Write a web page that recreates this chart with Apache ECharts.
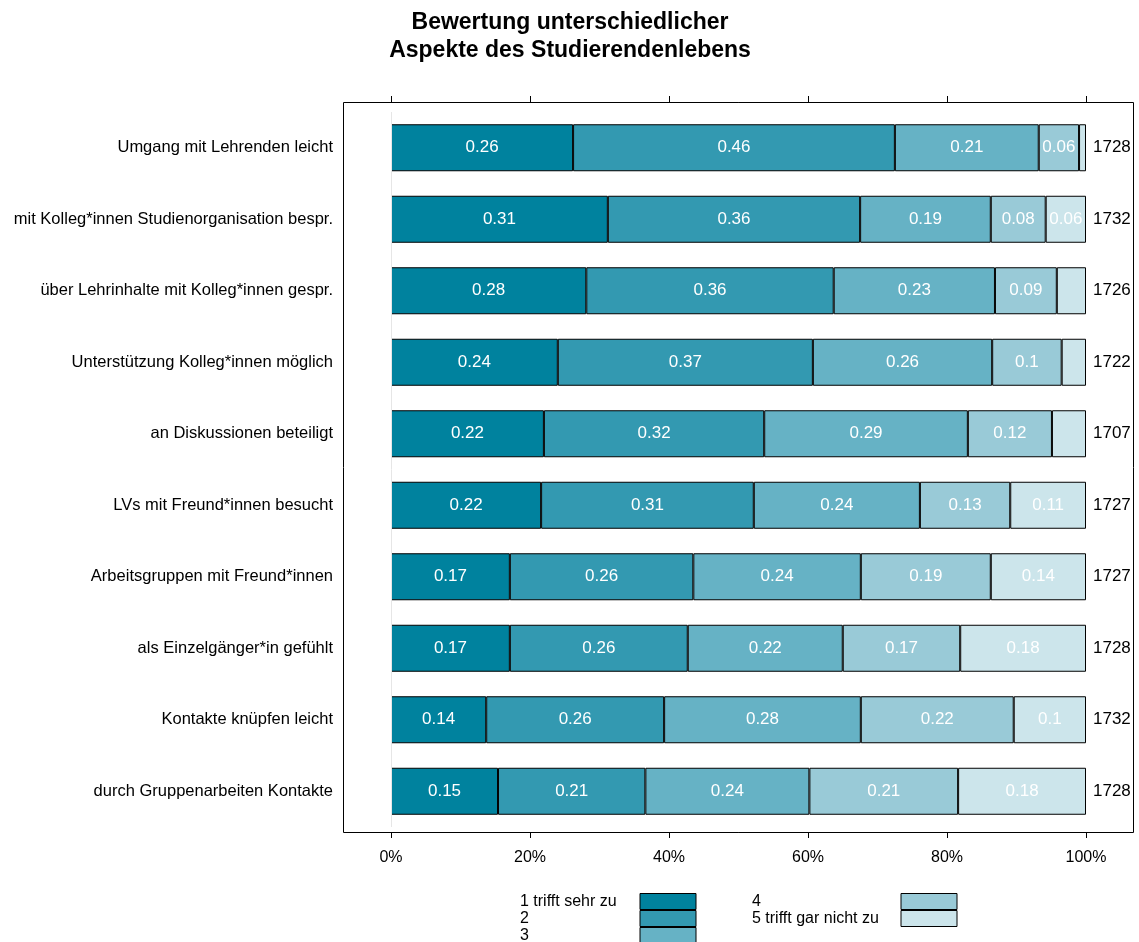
<!DOCTYPE html>
<html>
<head>
<meta charset="utf-8">
<script src="https://cdn.jsdelivr.net/npm/echarts@6/dist/echarts.min.js"></script>
<style>html,body{margin:0;padding:0;background:#fff}#c{width:1139px;height:942px}</style>
</head>
<body>
<div id="c"></div>
<script>
const categories = [
  "Umgang mit Lehrenden leicht",
  "mit Kolleg*innen Studienorganisation bespr.",
  "über Lehrinhalte mit Kolleg*innen gespr.",
  "Unterstützung Kolleg*innen möglich",
  "an Diskussionen beteiligt",
  "LVs mit Freund*innen besucht",
  "Arbeitsgruppen mit Freund*innen",
  "als Einzelgänger*in gefühlt",
  "Kontakte knüpfen leicht",
  "durch Gruppenarbeiten Kontakte"
];
const counts = ["1728","1732","1726","1722","1707","1727","1727","1728","1732","1728"];
const seriesNames = ["1 trifft sehr zu","2","3","4","5 trifft gar nicht zu"];
const colors = ["#00829E","#3399B1","#66B2C5","#99CAD7","#CCE5EB"];
const s1 = [0.262,0.312,0.281,0.240,0.220,0.216,0.171,0.171,0.137,0.154];
const s2 = [0.463,0.363,0.356,0.367,0.317,0.306,0.264,0.256,0.256,0.212];
const s3 = [0.207,0.188,0.232,0.258,0.293,0.239,0.241,0.223,0.283,0.236];
const s4 = [0.058,0.079,0.089,0.100,0.121,0.130,0.187,0.169,0.220,0.214];
const s5 = [0.010,0.058,0.042,0.035,0.049,0.109,0.137,0.181,0.104,0.184];
const tickLabels = ["0%","20%","40%","60%","80%","100%"];
const allSeries = [s1,s2,s3,s4,s5];

const FONT = "Liberation Sans, Arial, sans-serif";
const chart = echarts.init(document.getElementById('c'), null, {renderer:'canvas'});

const series = allSeries.map((d, i) => ({
  name: seriesNames[i],
  type: 'bar',
  stack: 'all',
  barWidth: 47,
  data: d,
  itemStyle: { color: colors[i], borderColor: '#000', borderWidth: 1 },
  label: {
    show: true,
    position: 'inside',
    color: '#fff',
    fontFamily: FONT,
    fontSize: 17,
    formatter: p => p.value >= 0.055 ? String(Math.round(p.value * 100) / 100) : ''
  },
  emphasis: { disabled: true },
  markLine: i === 0 ? {
    silent: true, symbol: 'none', label: { show: false },
    lineStyle: { color: '#e6e6e6', type: 'solid', width: 1 },
    data: [{ xAxis: 0 }]
  } : undefined,
  z: 3
}));

function legendCfg(names, left, w) {
  return {
    data: names, left: left, top: 893, height: 120, orient: 'vertical',
    align: 'right', itemGap: 0, itemWidth: 56, itemHeight: 16, padding: 0,
    selectedMode: false, icon: 'rect',
    itemStyle: { borderWidth: 1, borderColor: '#000' },
    formatter: n => '{a|' + n + '}',
    textStyle: { fontFamily: FONT, fontSize: 16, color: '#000', lineHeight: 14,
      rich: { a: { width: w, align: 'left', fontFamily: FONT, fontSize: 16, color: '#000', lineHeight: 14 } } }
  };
}

chart.setOption({
  animation: false,
  backgroundColor: '#fff',
  title: {
    text: 'Bewertung unterschiedlicher\nAspekte des Studierendenlebens',
    left: 565, textAlign: 'center', top: 4,
    textStyle: { fontFamily: FONT, fontWeight: 'bold', fontSize: 23, lineHeight: 28, color: '#000' }
  },
  grid: { left: 391, right: 53, top: 112, height: 715 },
  xAxis: [
    {
      type: 'value', min: 0, max: 1, interval: 0.2, position: 'bottom', offset: 5,
      axisLine: { show: true, lineStyle: { color: '#000', width: 1 } },
      axisTick: { show: true, length: 6, lineStyle: { color: '#000' } },
      axisLabel: { margin: 18, fontFamily: FONT, fontSize: 16, color: '#000',
        formatter: v => tickLabels[Math.round(v * 5)] },
      splitLine: { show: false }
    },
    {
      type: 'value', min: 0, max: 1, interval: 0.2, position: 'top', offset: 10,
      axisLine: { show: true, lineStyle: { color: '#000', width: 1 } },
      axisTick: { show: true, length: 6, lineStyle: { color: '#000' } },
      axisLabel: { show: false },
      splitLine: { show: false }
    }
  ],
  yAxis: [
    {
      type: 'category', data: categories, inverse: true, position: 'left',
      axisLine: { show: false }, axisTick: { show: false },
      axisLabel: { margin: 58, fontFamily: FONT, fontSize: 16.5, color: '#000' }
    },
    {
      type: 'category', data: counts, inverse: true, position: 'right',
      axisLine: { show: false }, axisTick: { show: false },
      axisLabel: { margin: 7, fontFamily: FONT, fontSize: 17, color: '#000' }
    }
  ],
  legend: [
    legendCfg(seriesNames.slice(0, 3), 520, 115),
    legendCfg(seriesNames.slice(3), 752, 144)
  ],
  graphic: [
    { type: 'rect', shape: { x: 343.5, y: 102.5, width: 790, height: 730 },
      style: { fill: 'none', stroke: '#000', lineWidth: 1 }, z: 10, silent: true }
  ],
  series: series
});
</script>
</body>
</html>
